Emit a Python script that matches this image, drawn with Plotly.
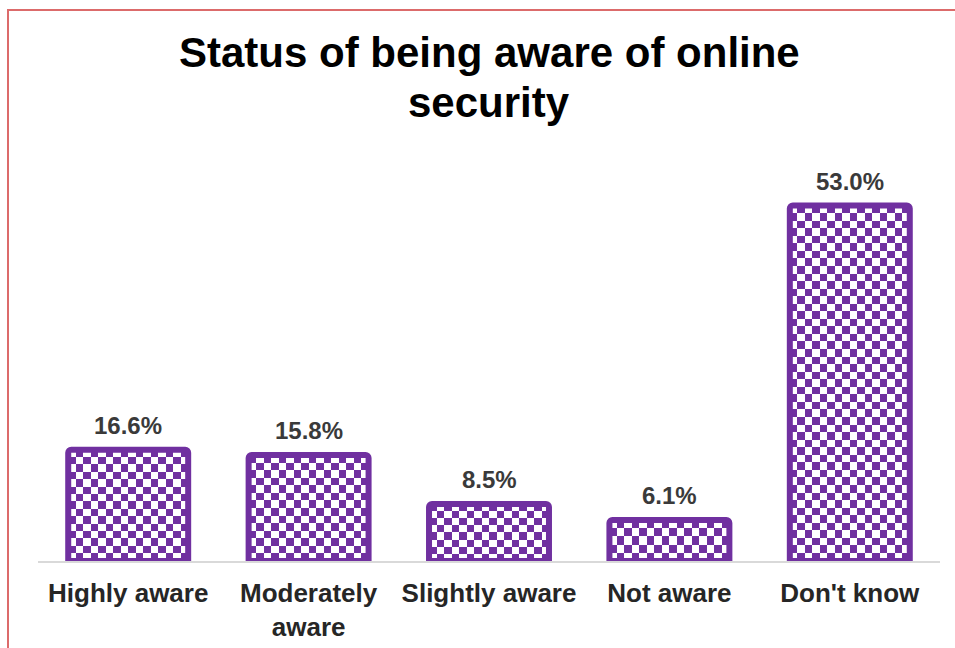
import plotly.graph_objects as go

# Survey results: awareness of online security
categories = ["Highly aware", "Moderately<br>aware", "Slightly aware", "Not aware", "Don't know"]
shares = [16.6, 15.8, 8.5, 6.1, 53.0]
title_lines = ["Status of being aware of online", "security"]

PURPLE = "#7030a0"
TEXT_DARK = "#262626"
FONT = "Liberation Sans, Arial, sans-serif"

W, H = 955, 648
M_L, M_R, M_T, M_B = 38, 15, 172, 87
Y_MAX = 58
BAR_W = 0.665          # bar width in category units
CELL_PX = 7.5          # checker square size in pixels
N_COLS = 16            # checker columns per bar

plot_h = H - M_T - M_B
px_per_unit = plot_h / Y_MAX
cell_h = CELL_PX / px_per_unit


def paper_y(py):
    """Convert a pixel row (from the top of the page) to paper y."""
    return (H - M_B - py) / plot_h


positions = list(range(len(categories)))

fig = go.Figure()

# Checkered fill of each bar, built as a small heatmap covering the bar body
for pos, val in zip(positions, shares):
    n_rows = max(1, round(val / cell_h))
    x0 = pos - BAR_W / 2
    xe = [x0 + BAR_W * i / N_COLS for i in range(N_COLS + 1)]
    ye = [val * j / n_rows for j in range(n_rows + 1)]
    z = [[(i + j) % 2 for i in range(N_COLS)] for j in range(n_rows)]
    fig.add_trace(go.Heatmap(
        x=xe, y=ye, z=z, zmin=0, zmax=1,
        colorscale=[[0, "#ffffff"], [1, PURPLE]],
        showscale=False, hoverinfo="skip", xgap=0, ygap=0,
    ))

# Bar outlines on top of the checker fill
fig.add_trace(go.Bar(
    x=positions, y=shares, width=BAR_W,
    marker=dict(color="rgba(0,0,0,0)", line=dict(color=PURPLE, width=6), cornerradius=3),
    hoverinfo="skip", showlegend=False,
))

# Value labels above the bars
for pos, val in zip(positions, shares):
    fig.add_annotation(
        x=pos, y=val, text=f"<b>{val:.1f}%</b>", showarrow=False,
        yanchor="bottom", yshift=9,
        font=dict(family=FONT, size=24, color="#3a3a3a"),
    )

# Two-line chart title
for line, py in zip(title_lines, [52, 102]):
    fig.add_annotation(
        x=0.5, xref="paper", y=paper_y(py), yref="paper",
        xanchor="center", yanchor="middle", showarrow=False,
        text=f"<b>{line}</b>",
        font=dict(family=FONT, size=42, color="#000000"),
    )

# Thin red frame along the top and left edges
px0 = (8 - M_L) / (W - M_L - M_R)
fig.add_shape(type="rect", xref="paper", yref="paper",
              x0=px0, x1=1.2, y0=-0.5, y1=paper_y(10),
              line=dict(color="#dc6b6b", width=2), fillcolor="rgba(0,0,0,0)", layer="below")

fig.update_layout(
    width=W, height=H,
    margin=dict(l=M_L, r=M_R, t=M_T, b=M_B, autoexpand=False),
    paper_bgcolor="white", plot_bgcolor="white",
    showlegend=False,
    xaxis=dict(
        range=[-0.5, len(categories) - 0.5],
        tickmode="array", tickvals=positions,
        ticktext=[f"<b>{c}</b>" for c in categories],
        tickfont=dict(family=FONT, size=26, color=TEXT_DARK),
        ticks="", ticklabelstandoff=8, automargin=False,
        showline=True, linecolor="#d9d9d9", linewidth=1.5,
        showgrid=False, zeroline=False, fixedrange=True,
    ),
    yaxis=dict(range=[0, Y_MAX], visible=False, showgrid=False, zeroline=False,
               fixedrange=True, automargin=False),
)

fig.write_html("out.html")
